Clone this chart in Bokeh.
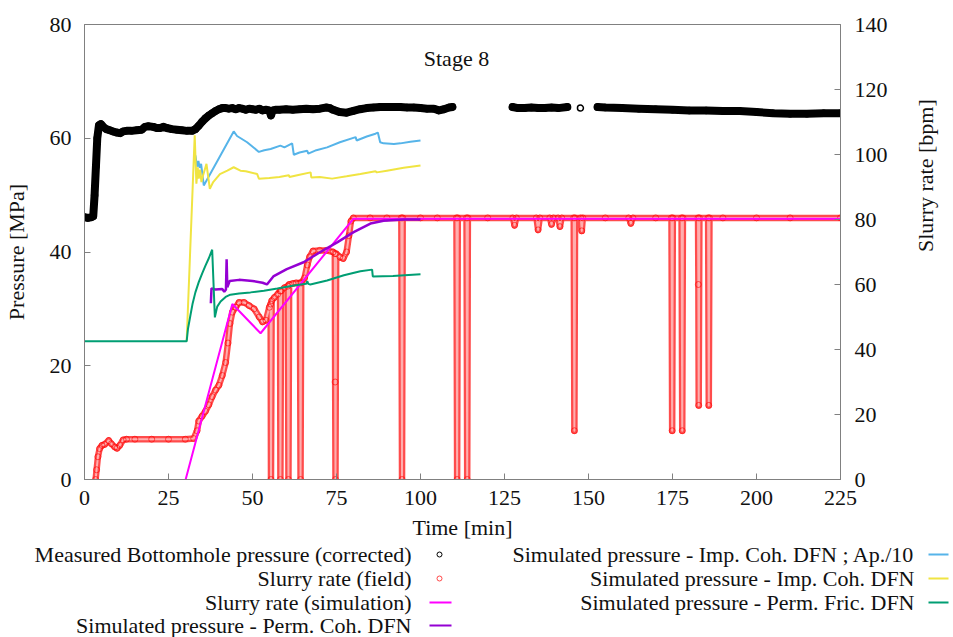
import math
from bokeh.plotting import figure
from bokeh.models import Range1d, LinearAxis, FixedTicker, Label, ColumnDataSource
from bokeh.embed import file_html
from bokeh.resources import INLINE
from bokeh.core.properties import value

nan = float("nan")

# ---------------- data ----------------
x_ticks = [0, 25, 50, 75, 100, 125, 150, 175, 200, 225]
p_ticks = [0, 20, 40, 60, 80]
q_ticks = [0, 20, 40, 60, 80, 100, 120, 140]

# Measured bottomhole pressure (corrected) [MPa]; nan = no data
bhp_t = [0, 1, 2, 2.6, 3.0, 3.4, 3.8, 4.3, 4.9, 5.6, 6.5, 7.5, 8.5, 9.5, 10.6, 11.5, 12.5, 14,
         15.5, 17, 18, 19, 20.5, 21.5, 22.5, 23.5, 24.5, 26, 27.5, 29, 30.5, 32, 33, 34, 35, 36,
         37, 38, 39, 40, 41, 42, 43, 44, 45, 46, 47, 48, 49, 50, 51, 52, 53, 54, 55, 55.5, 56,
         57, 58, 60, 62, 64, 66, 68, 70, 72, 73, 74, 76, 78, 80, 82, 84, 86, 88, 90, 92, 94, 96,
         98, 100, 102, 104, 105.5, 107, 108.5, 109.5, nan,
         127.4, 129, 131, 133, 135, 137, 139, 141, 143.7, nan,
         147.6, nan,
         152.7, 155, 160, 165, 170, 175, 180, 185, 190, 195, 200, 205, 210, 215, 220, 225]
bhp_p = [46.1, 46.0, 46.1, 46.3, 50.0, 55.0, 60.0, 62.3, 62.5, 62.0, 61.6, 61.4, 61.2, 61.0, 60.9,
         61.2, 61.3, 61.3, 61.4, 61.5, 62.0, 62.1, 62.0, 61.8, 61.8, 62.0, 61.8, 61.6, 61.5, 61.4,
         61.3, 61.3, 61.6, 62.2, 62.9, 63.5, 64.0, 64.4, 64.8, 65.1, 65.3, 65.3, 65.2, 65.3, 65.1,
         65.3, 65.2, 65.0, 65.2, 65.1, 65.0, 65.2, 64.9, 65.0, 64.9, 64.0, 64.9, 65.0, 65.0, 65.1,
         65.0, 65.1, 65.2, 65.1, 65.2, 65.4, 65.3, 65.0, 64.6, 64.5, 64.8, 65.1, 65.3, 65.4, 65.5,
         65.5, 65.5, 65.5, 65.4, 65.4, 65.3, 65.2, 65.2, 64.9, 65.1, 65.4, 65.5, nan,
         65.5, 65.3, 65.3, 65.4, 65.3, 65.3, 65.4, 65.3, 65.5, nan,
         65.3, nan,
         65.5, 65.4, 65.3, 65.2, 65.1, 65.0, 64.9, 64.9, 64.8, 64.8, 64.6, 64.4, 64.3, 64.3, 64.4,
         64.4]

# Slurry rate (field) [bpm]
field_t = [3.3, 3.6, 4.0, 4.5, 5.2, 6.0, 7.2, 8.0, 9.0, 9.7, 10.5, 11.5, 12.5, 15, 20, 25, 30,
           32.5, 33.5, 34, 35, 36, 37, 38, 39, 40, 41, 42, 42.7, 43.3, 44, 45, 46, 47.5, 49,
           50.5, 52, 53, 54, 55, 55.4, 55.5, 55.7, 56.5, 57.5, 58.2, 58.3, 58.5, 59.5, 60.5,
           60.7, 60.9, 62, 63, 64.1, 64.3, 64.5, 65.5, 66.3, 67, 68, 70, 72, 74, 74.5, 74.6,
           74.7, 74.9, 76, 77, 78, 78.7, 79.3, 80, 85, 90, 94.3, 94.5, 94.7, 100, 105, 110.7,
           110.9, 111.1, 113.7, 113.9, 114.1, 120, 127.5, 128, 128.5, 134.5, 135, 135.5, 138.5,
           139, 139.5, 141, 141.5, 142, 145.6, 145.8, 146, 147.7, 148, 148.3, 155, 162, 162.6,
           163.2, 170, 174.7, 174.9, 175.1, 177.7, 177.9, 178.1, 182.6, 182.7, 182.8, 183,
           185.6, 185.8, 186, 190, 200, 210, 225]
field_q = [0, 3, 7, 9.5, 10.5, 10.8, 12, 11, 10, 9.6, 10.5, 12.2, 12.4, 12.4, 12.4, 12.4, 12.4,
           12.6, 15, 18, 19.5, 21, 23, 25.5, 27.5, 29, 32, 36, 42, 48, 51.5, 53, 54.5, 54.5, 53.5,
           52.5, 50, 48.5, 49, 53, 54, 0, 55, 56, 57, 58, 0, 58, 59, 59.5,
           0, 60, 60.3, 60.5, 60.5, 0, 60.5, 62, 66, 68.5, 70.3, 70.5, 70.5, 70.0, 69.5, 30,
           0, 69.5, 68.5, 68, 70, 75, 79.5, 80.5, 80.5, 80.5, 80.5, 0, 80.5, 80.5, 80.5, 80.5,
           0, 80.5, 80.5, 0, 80.5, 80.5, 80.5, 78.2, 80.5, 80.5, 76.8, 80.5, 80.5,
           78.5, 80.5, 80.5, 77.8, 80.5, 80.5, 15, 80.5, 80.5, 76.5, 80.5, 80.5, 80.5, 78.8,
           80.5, 80.5, 80.5, 15, 80.5, 80.5, 15, 80.5, 80.5, 60, 22.8, 80.5,
           80.5, 22.8, 80.5, 80.5, 80.5, 80.5, 80.5]

# Slurry rate (simulation) [bpm]
sim_t = [30.1, 44.0, 52.4, 80.0, 225]
sim_q = [0, 54.0, 45.0, 80.2, 80.2]

# Simulated pressure - Perm. Coh. DFN [MPa]
pcoh_t = [37.6, 37.8, 39, 41, 41.6, 42.1, 42.3, 42.5, 43.2, 46, 50, 53, 54.3, 56.2, 60.2, 65.2,
          70.2, 75.2, 80.1, 85.1, 89, 95, 100]
pcoh_p = [31.0, 33.6, 33.4, 33.5, 33.0, 33.4, 38.7, 33.8, 34.9, 35.1, 34.9, 34.6, 34.3, 35.7,
          37.0, 38.2, 40.0, 41.7, 43.5, 45.0, 45.5, 45.7, 45.7]

# Simulated pressure - Imp. Coh. DFN ; Ap./10 [MPa]
icap_t = [33.0, 33.3, 33.6, 33.9, 34.3, 34.7, 35.5, 40, 44.4, 45.4, 48.4, 51.9, 53.5, 55.4, 58.3,
          59.5, 61.8, 62.3, 64, 66.3, 66.6, 69, 72.2, 76, 80.7, 81, 84, 86.6, 87.3, 88, 89, 92.1,
          94, 97, 100]
icap_p = [57.0, 55.8, 55.0, 56.0, 54.8, 55.5, 51.7, 56.5, 61.2, 60.4, 59.3, 57.6, 57.9, 58.1, 58.7,
          58.4, 59.1, 57.1, 57.5, 57.8, 57.3, 57.9, 58.4, 59.3, 60.2, 59.6, 60.3, 60.8, 61.0, 59.3,
          59.1, 59.0, 59.1, 59.4, 59.6]

# Simulated pressure - Imp. Coh. DFN [MPa]
icoh_t = [30.4, 32.8, 33.3, 33.7, 34.0, 34.4, 34.8, 35.3, 36.3, 37.3, 38.3, 40.3, 42.5, 44.4, 46.4,
          48, 51.4, 51.9, 55, 58, 60.8, 61.0, 64, 67.3, 67.5, 70, 73.7, 78, 82.1, 86.6, 87, 90,
          95, 100]
icoh_p = [24.3, 60.5, 52.0, 54.9, 52.9, 54.5, 52.3, 53.5, 55.5, 51.1, 52.3, 53.7, 54.3, 54.9, 54.3,
          54.2, 53.7, 52.9, 53.0, 53.2, 53.5, 53.2, 53.6, 54.0, 53.1, 53.2, 52.9, 53.3, 53.7, 54.2,
          54.0, 54.3, 54.8, 55.2]

# Simulated pressure - Perm. Fric. DFN [MPa]
pfr_t = [0, 30.4, 30.8, 31.5, 32.2, 33, 34, 35, 36, 37, 38, 38.8, 39.5, 40.5, 42, 43.4, 46, 49.4,
         53.4, 57.4, 62.3, 66, 66.3, 66.6, 67.2, 72.2, 77.2, 82.1, 85.6, 85.8, 91.8, 100]
pfr_p = [24.3, 24.3, 26.5, 28.8, 31.0, 32.9, 34.7, 36.2, 37.6, 38.9, 40.4, 28.5, 30.4, 31.3, 32.1,
         32.5, 32.7, 32.9, 33.2, 33.6, 34.1, 34.4, 34.9, 34.4, 34.3, 35.0, 35.9, 36.6, 36.9, 35.7,
         35.8, 36.1]

legend_left = ["Measured Bottomhole pressure (corrected)", "Slurry rate (field)",
               "Slurry rate (simulation)", "Simulated pressure - Perm. Coh. DFN"]
legend_right = ["Simulated pressure - Imp. Coh. DFN ; Ap./10", "Simulated pressure - Imp. Coh. DFN",
                "Simulated pressure - Perm. Fric. DFN"]

# ---------------- styles ----------------
FONT = "Liberation Serif"
FS = "22px"
LFS = "22px"
GRAY = "#808080"
TXT = "#111111"
C_BHP = "black"
C_FIELD = "#ff0000"
C_SIM = "#ff00ff"
C_PCOH = "#9400d3"
C_ICAP = "#56b4e9"
C_ICOH = "#f0e442"
C_PFR = "#009e73"

TOP, FH, BOT = 24, 455, 62
MAIN_H = TOP + FH + BOT

p = figure(frame_width=756, frame_height=FH,
           min_border_left=84, min_border_right=113, min_border_top=TOP, min_border_bottom=BOT,
           x_range=Range1d(0, 225), y_range=Range1d(0, 80),
           output_backend="svg", toolbar_location=None,
           outline_line_color=GRAY, outline_line_width=1,
           background_fill_color="white", border_fill_color="white")
p.extra_y_ranges = {"rate": Range1d(0, 140)}
p.xgrid.visible = False
p.ygrid.visible = False

p.xaxis.ticker = FixedTicker(ticks=x_ticks)
p.yaxis.ticker = FixedTicker(ticks=p_ticks)
p.xaxis.axis_label = "Time [min]"
p.yaxis.axis_label = "Pressure [MPa]"

y2 = LinearAxis(y_range_name="rate", ticker=FixedTicker(ticks=q_ticks),
                axis_label="Slurry rate [bpm]")
p.add_layout(y2, "right")

for ax in [p.xaxis[0], p.yaxis[0], y2]:
    ax.axis_line_color = GRAY
    ax.major_tick_line_color = GRAY
    ax.major_tick_in = 6
    ax.major_tick_out = 0
    ax.minor_tick_line_color = None
    ax.major_label_text_font = FONT
    ax.major_label_text_font_size = FS
    ax.major_label_text_color = TXT
    ax.axis_label_text_font = FONT
    ax.axis_label_text_font_size = FS
    ax.axis_label_text_font_style = "normal"
    ax.axis_label_text_color = TXT

p.xaxis.major_label_standoff = 11
p.xaxis.axis_label_standoff = 7
p.yaxis.major_label_standoff = 13
p.yaxis.axis_label_standoff = 18
y2.major_label_standoff = 14
y2.axis_label_standoff = 35
y2.axis_label_orientation = math.pi / 2

# measured BHP: dense marker trace
p.line(bhp_t, bhp_p, line_color=C_BHP, line_width=8, line_join="round", line_cap="round")
p.scatter(bhp_t, bhp_p, marker="circle", size=6, fill_color=None, line_color=C_BHP, line_width=1.5)

# slurry rate (field): band of overlapping open circles
p.line(field_t, field_q, y_range_name="rate", line_color=C_FIELD, line_alpha=0.7, line_width=6.5,
       line_join="round", line_cap="round")
p.line(field_t, field_q, y_range_name="rate", line_color="white", line_alpha=0.55, line_width=2,
       line_join="round", line_cap="round")
p.scatter(field_t, field_q, y_range_name="rate", marker="circle", size=6, fill_color=None,
          line_color=C_FIELD, line_alpha=0.6, line_width=1)

# slurry rate (simulation)
p.line(sim_t, sim_q, y_range_name="rate", line_color=C_SIM, line_width=2)

# simulated pressures
p.line(pcoh_t, pcoh_p, line_color=C_PCOH, line_width=2.5)
p.line(icap_t, icap_p, line_color=C_ICAP, line_width=2)
p.line(icoh_t, icoh_p, line_color=C_ICOH, line_width=2)
p.line(pfr_t, pfr_p, line_color=C_PFR, line_width=2)

p.add_layout(Label(x=110.7, y=74.0, text="Stage 8", text_align="center", text_baseline="middle",
                   text_font=FONT, text_font_size=FS, text_color=TXT))

# ---------------- legend (text left, sample right) ----------------
LH = 637 - MAIN_H
lf = figure(width=953, height=LH, x_range=Range1d(0, 953), y_range=Range1d(LH, 0),
            output_backend="svg", toolbar_location=None, min_border=0,
            outline_line_color=None, background_fill_color="white", border_fill_color="white")
lf.axis.visible = False
lf.grid.visible = False

rows = [553 - MAIN_H, 577 - MAIN_H, 601 - MAIN_H, 624 - MAIN_H]
ls = ColumnDataSource(dict(x=[411] * 4, y=rows, t=legend_left))
rs = ColumnDataSource(dict(x=[914] * 3, y=rows[:3], t=legend_right))
for src in (ls, rs):
    lf.text(x="x", y="y", text="t", source=src, text_align="right", text_baseline="middle",
            text_font=value(FONT), text_font_size=value(LFS), text_color=TXT)

lf.scatter([439], [rows[0]], marker="circle", size=5, fill_color=None, line_color=C_BHP, line_width=1)
lf.scatter([439], [rows[1]], marker="circle", size=5, fill_color=None, line_color=C_FIELD,
           line_alpha=0.7, line_width=1)
lf.segment(x0=[429, 429], y0=[rows[2], rows[3]], x1=[451, 451], y1=[rows[2], rows[3]],
           line_color=[C_SIM, C_PCOH], line_width=2)
lf.segment(x0=[928, 928, 928], y0=rows[:3], x1=[948, 948, 948], y1=rows[:3],
           line_color=[C_ICAP, C_ICOH, C_PFR], line_width=2)

open("out.html", "w").write(file_html([p, lf], INLINE))
